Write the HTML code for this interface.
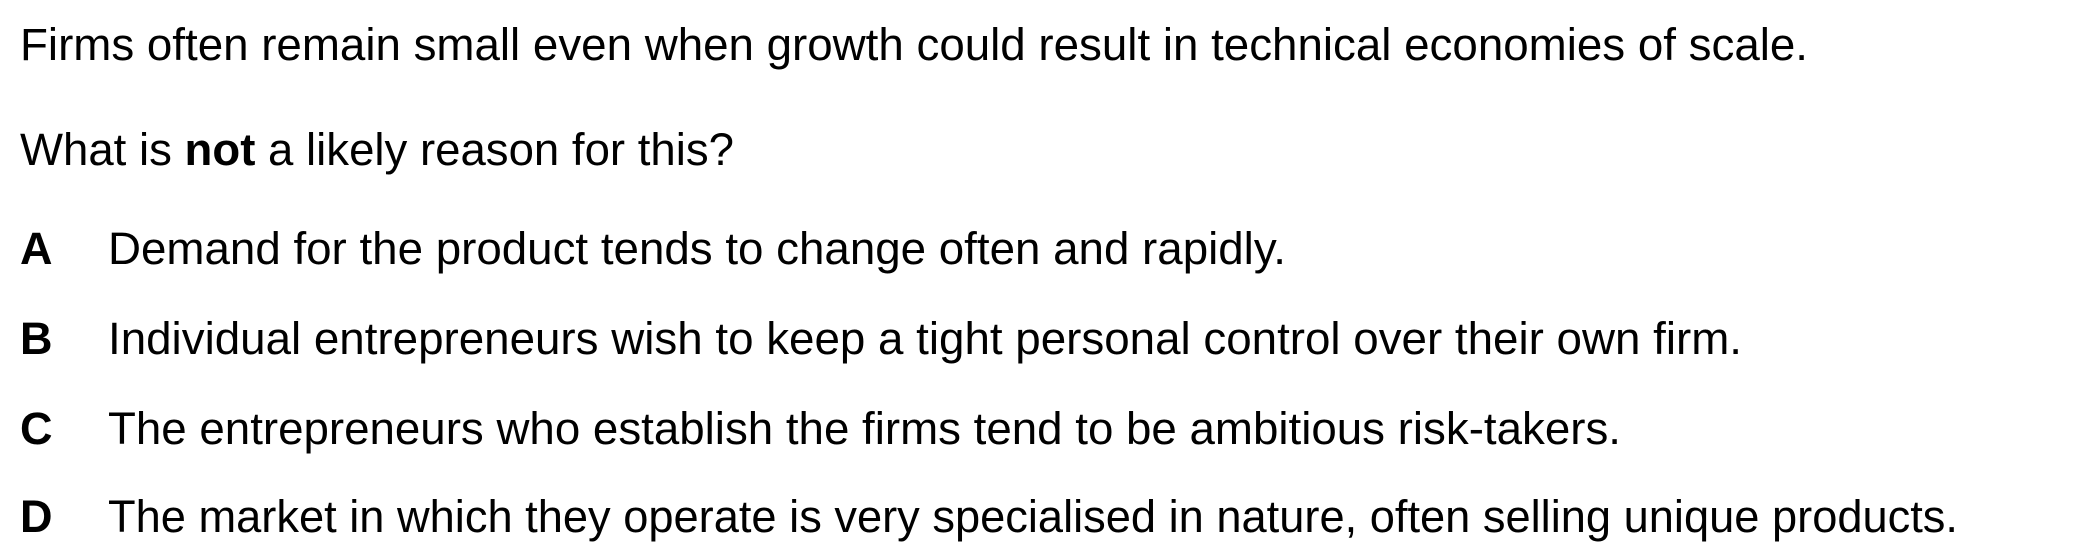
<!DOCTYPE html>
<html><head><meta charset="utf-8"><style>
html,body{margin:0;padding:0;background:#fff;width:2100px;height:560px;overflow:hidden}
svg text{font-family:"Liberation Sans",Arial,sans-serif;font-size:45px;fill:#000}
</style></head><body>
<svg width="2100" height="560">
<text x="20" y="60" textLength="1788" lengthAdjust="spacingAndGlyphs">Firms often remain small even when growth could result in technical economies of scale.</text>
<text x="20" y="165" textLength="714" lengthAdjust="spacingAndGlyphs">What is <tspan font-weight="bold">not</tspan> a likely reason for this?</text>
<g>
<text x="20" y="264" font-weight="bold">A</text>
<text x="108" y="264" textLength="1178" lengthAdjust="spacingAndGlyphs">Demand for the product tends to change often and rapidly.</text></g>
<g>
<text x="20" y="354" font-weight="bold">B</text>
<text x="108" y="354" textLength="1634" lengthAdjust="spacingAndGlyphs">Individual entrepreneurs wish to keep a tight personal control over their own firm.</text></g>
<g>
<text x="20" y="444" font-weight="bold">C</text>
<text x="108" y="444" textLength="1513" lengthAdjust="spacingAndGlyphs">The entrepreneurs who establish the firms tend to be ambitious risk-takers.</text></g>
<g>
<text x="20" y="532" font-weight="bold">D</text>
<text x="108" y="532" textLength="1850" lengthAdjust="spacingAndGlyphs">The market in which they operate is very specialised in nature, often selling unique products.</text></g>
</svg>
</body></html>
